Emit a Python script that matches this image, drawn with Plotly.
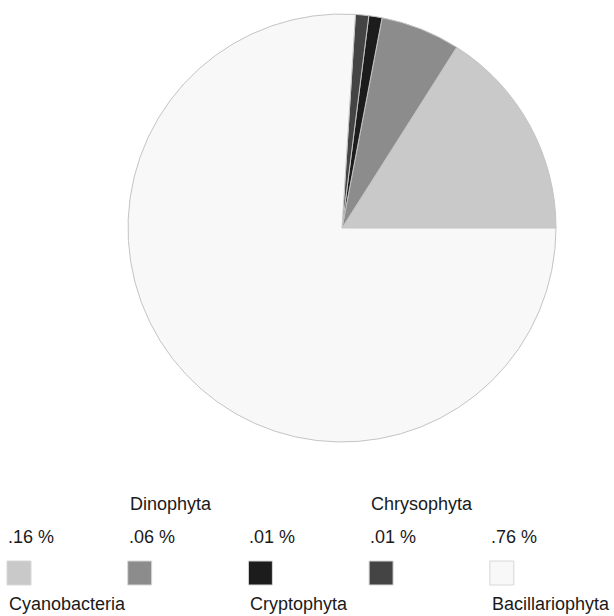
import plotly.graph_objects as go

# Phytoplankton group shares
groups = ["Cyanobacteria", "Dinophyta", "Cryptophyta", "Chrysophyta", "Bacillariophyta"]
shares = [0.16, 0.06, 0.01, 0.01, 0.76]
colors = ["#c9c9c9", "#8c8c8c", "#1c1c1c", "#444444", "#f8f8f8"]

W, H = 614, 616
FONT = dict(family="Liberation Sans, Arial, sans-serif", size=18, color="#1a1a1a")

# pie geometry in pixels
cx, cy, r = 342, 228, 214

# counterclockwise pies in plotly place the first slice ending at `rotation`,
# so shift it to make the first slice start at 3 o'clock
rotation = 90 - shares[0] / sum(shares) * 360

fig = go.Figure()
fig.add_trace(go.Pie(
    labels=groups,
    values=shares,
    sort=False,
    direction="counterclockwise",
    rotation=rotation,
    marker=dict(colors=colors, line=dict(color="#c4c4c4", width=1)),
    textinfo="none",
    hoverinfo="label+percent",
    showlegend=False,
    domain=dict(x=[(cx - r) / W, (cx + r) / W], y=[1 - (cy + r) / H, 1 - (cy - r) / H]),
))

# custom legend: one column per group
col_left = 7
col_step = 120.7
sq = 24
xs = [col_left + i * col_step for i in range(len(groups))]

fig.add_trace(go.Scatter(
    x=[x + sq / 2 for x in xs],
    y=[573] * len(groups),
    mode="markers",
    marker=dict(symbol="square", size=sq, color=colors, line=dict(color="#d8d8d8", width=1)),
    hoverinfo="skip",
    showlegend=False,
    xaxis="x", yaxis="y",
))

annotations = []
for i, (g, v, x) in enumerate(zip(groups, shares, xs)):
    label = f"{v:.2f}".lstrip("0") + " %"
    annotations.append(dict(x=x - 1, y=537, text=label, xref="x", yref="y",
                            xanchor="left", yanchor="middle", showarrow=False, font=FONT))
    name_y = 604 if i % 2 == 0 else 504
    annotations.append(dict(x=x, y=name_y, text=g, xref="x", yref="y",
                            xanchor="left", yanchor="middle", showarrow=False, font=FONT))

fig.update_layout(
    width=W, height=H,
    margin=dict(l=0, r=0, t=0, b=0),
    paper_bgcolor="white",
    plot_bgcolor="rgba(0,0,0,0)",
    xaxis=dict(range=[0, W], visible=False, fixedrange=True),
    yaxis=dict(range=[H, 0], visible=False, fixedrange=True),
    annotations=annotations,
    font=FONT,
)

fig.write_html("out.html")
